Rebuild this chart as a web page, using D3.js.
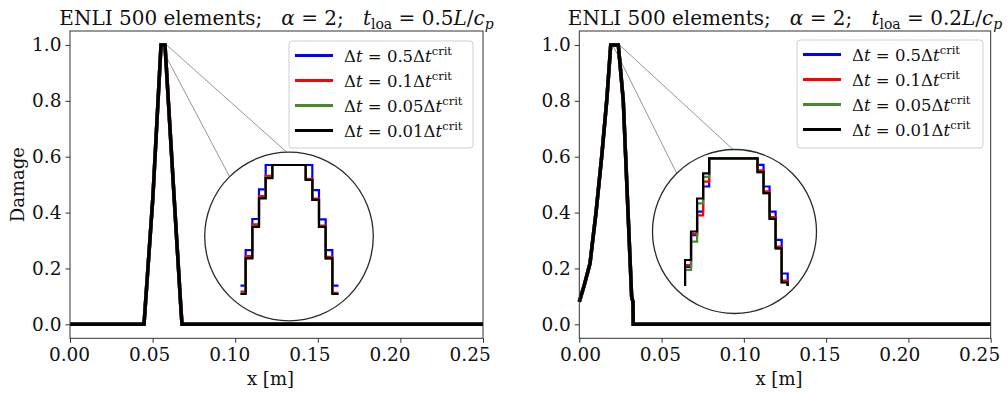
<!DOCTYPE html>
<html>
<head>
<meta charset="utf-8">
<script src="https://cdn.jsdelivr.net/npm/d3@7"></script>
<style>
  body { margin: 0; background: #fff; }
  svg { display: block; font-family: 'DejaVu Serif', serif; }
  text { white-space: pre; }
</style>
</head>
<body>
<div id="chart"></div>
<script>
// ---- data ----
const seriesDt = ['0.5', '0.1', '0.05', '0.01']
const xTicks = [0, 0.05, 0.10, 0.15, 0.20, 0.25]
const yTicks = [0, 0.2, 0.4, 0.6, 0.8, 1.0]
const loadTimes = ['0.5', '0.2']

// main curves (all four series coincide at this scale)
const mainXLeft = [0, 0.0448, 0.0454, 0.0502, 0.0551, 0.0575, 0.0630, 0.0672, 0.0678, 0.25]
const mainYLeft = [0, 0, 0.051, 0.457, 1.0, 1.0, 0.457, 0.051, 0, 0]
const mainXRight = [0, 0.003, 0.0065, 0.0101, 0.0136, 0.0167, 0.0191, 0.0237, 0.0267, 0.0292, 0.0318, 0.0326, 0.0328, 0.25]
const mainYRight = [0.081, 0.14, 0.218, 0.397, 0.6, 0.803, 1.0, 1.0, 0.803, 0.457, 0.1, 0.08, 0, 0]

// zoomed insets: element edges and per-element damage
const insetEdgesLeft = [0.0530, 0.0535, 0.0540, 0.0545, 0.0550, 0.0555, 0.0580, 0.0585, 0.0590, 0.0595, 0.0600, 0.0605]
const insetLeftDt05 = [0.799, 0.858, 0.910, 0.9595, 1.0, 1.0, 1.0, 0.958, 0.9095, 0.858, 0.799]
const insetLeftDt01 = [0.789, 0.848, 0.901, 0.948, 0.982, 1.0, 0.977, 0.944, 0.899, 0.847, 0.787]
const insetLeftDt005 = [0.786, 0.845, 0.898, 0.945, 0.979, 1.0, 0.975, 0.942, 0.897, 0.8445, 0.785]
const insetLeftDt001 = [0.785, 0.8445, 0.897, 0.9445, 0.978, 1.0, 0.975, 0.942, 0.897, 0.8445, 0.785]

const insetEdgesRight = [0.0165, 0.0170, 0.0175, 0.0180, 0.0185, 0.0190, 0.0230, 0.0235, 0.0240, 0.0245, 0.0250, 0.0255, 0.0260]
const insetRightDt05 = [0.74, 0.819, 0.872, 0.911, 0.953, 1.0, 0.989, 0.953, 0.911, 0.864, 0.808, 0.77]
const insetRightDt01 = [0.745, 0.822, 0.874, 0.905, 0.961, 1.0, 0.980, 0.945, 0.902, 0.853, 0.796, 0.762]
const insetRightDt005 = [0.745, 0.814, 0.861, 0.925, 0.969, 1.0, 0.977, 0.942, 0.899, 0.85, 0.793, 0.76]
const insetRightDt001 = [0.75, 0.8305, 0.878, 0.933, 0.975, 1.0, 0.977, 0.942, 0.899, 0.85, 0.793, 0.76]

// ---- styles / layout ----
const colors = ['#0000ff', '#ff0000', '#468a2c', '#000000']
const width = 1007
const height = 393
const axTop = 31
const axBottom = 338.3

const panels = [
  {
    left: 70, right: 483, title: loadTimes[0], ylabel: true, labelShift: -1,
    mainX: mainXLeft, mainY: mainYLeft,
    legend: {x: 289, y: 41, w: 184, h: 107},
    circle: {cx: 289, cy: 236.5, r: 84.3},
    inset: {edges: insetEdgesLeft, series: [insetLeftDt05, insetLeftDt01, insetLeftDt005, insetLeftDt001],
      xr: [239, 339], yTop: 165, clip: [240.5, 150, 98, 160]},
    links: [[0.0585, 1.0, -91.5], [0.0545, 1.0, -134.8]]
  },
  {
    left: 579.3, right: 990.7, title: loadTimes[1], ylabel: false, labelShift: 0.7,
    mainX: mainXRight, mainY: mainYRight,
    legend: {x: 797, y: 40, w: 186, h: 108},
    circle: {cx: 734.5, cy: 231.5, r: 82},
    inset: {edges: insetEdgesRight, series: [insetRightDt05, insetRightDt01, insetRightDt005, insetRightDt001],
      xr: [678.96, 793.74], yTop: 158.3, clip: [684, 148, 105, 138]},
    links: [[0.0235, 1.005, -91], [0.0203, 1.0, -134.8]]
  }
]

const svg = d3.select('#chart').append('svg')
  .attr('width', width)
  .attr('height', height)

// appends tspans; parts: {t, i (italic), sub, sup}
function rich (text, parts, size) {
  let shift = 0
  parts.forEach(p => {
    let ts = text.append('tspan').text(p.t)
    let want = p.sup ? -size * 0.42 : p.sub ? size * 0.22 : 0
    if (want !== shift) { ts.attr('dy', want - shift); shift = want }
    if (p.i) ts.attr('font-style', 'italic')
    if (p.sup || p.sub) ts.attr('font-size', size * 0.7)
  })
}

panels.forEach((pn, k) => {
  let x = d3.scaleLinear().domain([0, 0.25]).range([pn.left, pn.right])
  let y = d3.scaleLinear().domain([-0.05, 1.05]).range([axBottom, axTop])
  let g = svg.append('g')

  // connector lines to the zoom circle
  pn.links.forEach(l => {
    let a = l[2] / 180 * Math.PI
    g.append('line')
      .attr('x1', x(l[0])).attr('y1', y(l[1]))
      .attr('x2', pn.circle.cx + pn.circle.r * Math.cos(a))
      .attr('y2', pn.circle.cy + pn.circle.r * Math.sin(a))
      .attr('stroke', '#8a8a8a').attr('stroke-width', 0.9)
  })

  // main curves
  let line = d3.line().x(d => x(d[0])).y(d => y(d[1]))
  let pts = pn.mainX.map((v, i) => [v, pn.mainY[i]])
  colors.forEach(c => {
    g.append('path').attr('d', line(pts))
      .attr('fill', 'none').attr('stroke', c).attr('stroke-width', 3.5)
      .attr('stroke-linejoin', 'miter')
  })

  // frame
  g.append('rect')
    .attr('x', pn.left).attr('y', axTop)
    .attr('width', pn.right - pn.left).attr('height', axBottom - axTop)
    .attr('fill', 'none').attr('stroke', '#333').attr('stroke-width', 1)

  // axes
  let xAxis = d3.axisBottom(x).tickValues(xTicks).tickFormat(d3.format('.2f')).tickSize(4.5).tickPadding(5)
  let gx = g.append('g').attr('transform', `translate(0,${axBottom})`).call(xAxis)
  let yAxis = d3.axisLeft(y).tickValues(yTicks).tickFormat(d3.format('.1f')).tickSize(4.5).tickPadding(4)
  let gy = g.append('g').attr('transform', `translate(${pn.left},0)`).call(yAxis)
  ;[gx, gy].forEach(a => {
    a.select('.domain').remove()
    a.selectAll('line').attr('stroke', '#333')
    a.selectAll('text').attr('font-family', 'DejaVu Serif').attr('font-size', 18.5).attr('fill', '#111')
  })
  // x tick labels sit slightly closer together than the ticks in the original
  gx.selectAll('.tick text').attr('x', d => pn.labelShift - (x(d) - x(0)) * 0.03)

  g.append('text')
    .attr('x', (pn.left + pn.right) / 2 - 6).attr('y', 385)
    .attr('text-anchor', 'middle').attr('font-size', 18).attr('fill', '#111')
    .text('x [m]')
  if (pn.ylabel) {
    g.append('text')
      .attr('transform', `translate(24,${(axTop + axBottom) / 2}) rotate(-90)`)
      .attr('text-anchor', 'middle').attr('font-size', 18).attr('fill', '#111')
      .text('Damage')
  }

  // title
  let tt = g.append('text')
    .attr('x', (pn.left + pn.right) / 2).attr('y', 25)
    .attr('text-anchor', 'middle').attr('font-size', 20).attr('fill', '#111')
  rich(tt, [{t: 'ENLI 500 elements;   '}, {t: 'α', i: true}, {t: ' = 2;   '}, {t: 't', i: true}, {t: 'loa', sub: true},
    {t: ' = ' + pn.title}, {t: 'L', i: true}, {t: '/'}, {t: 'c', i: true}, {t: 'p', i: true, sub: true}], 20)

  // legend
  let lg = pn.legend
  g.append('rect')
    .attr('x', lg.x).attr('y', lg.y).attr('width', lg.w).attr('height', lg.h)
    .attr('rx', 3).attr('fill', '#fff').attr('fill-opacity', 0.8)
    .attr('stroke', '#cfcfcf').attr('stroke-width', 1)
  seriesDt.forEach((s, i) => {
    let ly = lg.y + 14.5 + i * 25
    g.append('line')
      .attr('x1', lg.x + 6).attr('x2', lg.x + 44).attr('y1', ly).attr('y2', ly)
      .attr('stroke', colors[i]).attr('stroke-width', 3)
    let t = g.append('text')
      .attr('x', lg.x + 55).attr('y', ly + 6)
      .attr('font-size', 16.5).attr('fill', '#111')
    rich(t, [{t: 'Δ'}, {t: 't', i: true}, {t: ' = ' + s + 'Δ'}, {t: 't', i: true}, {t: 'crit', sup: true}], 16.5)
  })

  // zoom circle with staircase inset
  let c = pn.circle
  g.append('circle')
    .attr('cx', c.cx).attr('cy', c.cy).attr('r', c.r)
    .attr('fill', '#fff').attr('stroke', '#2a2a2a').attr('stroke-width', 1.3)
  let ins = pn.inset
  let ix = d3.scaleLinear().domain([ins.edges[0], ins.edges[ins.edges.length - 1]]).range(ins.xr)
  let iy = d3.scaleLinear().domain([0.75, 1.0]).range([ins.yTop + 150, ins.yTop])
  let clipId = 'inclip' + k
  svg.append('clipPath').attr('id', clipId)
    .append('rect').attr('x', ins.clip[0]).attr('y', ins.clip[1])
    .attr('width', ins.clip[2]).attr('height', ins.clip[3])
  let step = d3.line().x(d => ix(d[0])).y(d => iy(d[1])).curve(d3.curveStepAfter)
  let ig = g.append('g').attr('clip-path', `url(#${clipId})`)
  ins.series.forEach((vals, i) => {
    let p = vals.map((v, j) => [ins.edges[j], v])
    p.push([ins.edges[vals.length], vals[vals.length - 1]])
    ig.append('path').attr('d', step(p))
      .attr('fill', 'none').attr('stroke', colors[i]).attr('stroke-width', 2.2)
  })
})
</script>
</body>
</html>
